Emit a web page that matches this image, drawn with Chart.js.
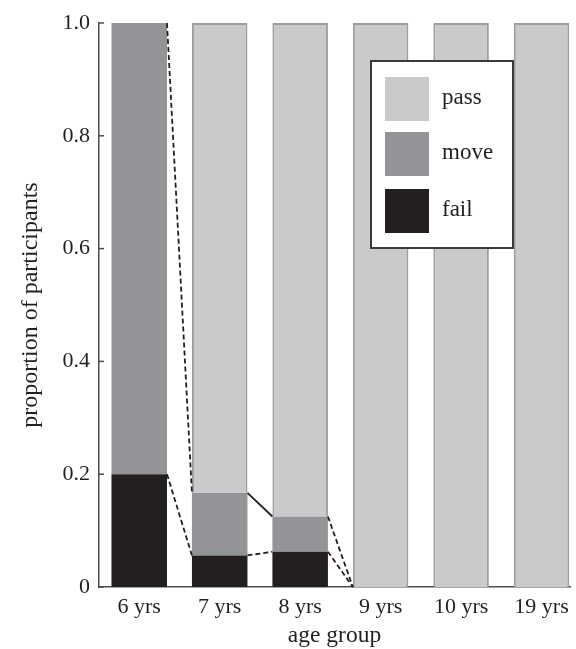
<!DOCTYPE html>
<html>
<head>
<meta charset="utf-8">
<title>proportion of participants by age group</title>
<script src="https://cdn.jsdelivr.net/npm/chart.js@4.4.1/dist/chart.umd.min.js"></script>
<style>
    html, body { margin: 0; padding: 0; background: #fff; }
    #wrap { width: 576px; height: 649px; position: relative; }
</style>
</head>
<body>
<div id="wrap"><canvas id="myChart"></canvas></div>
<script>
// data
const ageGroups = ['6 yrs', '7 yrs', '8 yrs', '9 yrs', '10 yrs', '19 yrs'];
const failValues = [0.2, 0.056, 0.0625, 0, 0, 0];
const moveValues = [0.8, 0.111, 0.0625, 0, 0, 0];
const passValues = [0, 0.833, 0.875, 1, 1, 1];
const yTickValues = [0, 0.2, 0.4, 0.6, 0.8, 1.0];
const yTickLabels = ['0', '0.2', '0.4', '0.6', '0.8', '1.0'];

// lines joining neighbouring bars: from bar, level, dashed or not
const linkFrom = [0, 0, 1, 1, 2, 2];
const linkLevel = ['move', 'fail', 'move', 'fail', 'move', 'fail'];
const linkDashed = [true, true, false, true, true, true];

const serif = '"Liberation Serif", "Times New Roman", serif';
const ink = '#231f20';

// connector lines drawn from the bar elements themselves
const linkPlugin = {
    id: 'links',
    afterDatasetsDraw(chart) {
        const ctx = chart.ctx;
        const metas = {
            fail: chart.getDatasetMeta(0),
            move: chart.getDatasetMeta(1)
        };
        ctx.save();
        ctx.strokeStyle = ink;
        ctx.lineWidth = 1.8;
        linkFrom.forEach((i, k) => {
            const meta = metas[linkLevel[k]];
            const a = meta.data[i];
            const b = meta.data[i + 1];
            ctx.setLineDash(linkDashed[k] ? [5, 3] : []);
            ctx.beginPath();
            ctx.moveTo(a.x + a.width / 2, a.y);
            ctx.lineTo(b.x - b.width / 2, b.y);
            ctx.stroke();
        });
        ctx.restore();
    }
};

// inward tick marks on the y axis
const tickPlugin = {
    id: 'inTicks',
    afterDraw(chart) {
        const ctx = chart.ctx;
        const y = chart.scales.y;
        const left = chart.chartArea.left;
        ctx.save();
        ctx.strokeStyle = '#4d4d4d';
        ctx.lineWidth = 1.5;
        yTickValues.forEach(v => {
            const py = y.getPixelForValue(v);
            ctx.beginPath();
            ctx.moveTo(left, py);
            ctx.lineTo(left + 5, py);
            ctx.stroke();
        });
        ctx.restore();
    }
};

// boxed legend inside the plot
const legendPlugin = {
    id: 'boxLegend',
    afterDraw(chart) {
        const ctx = chart.ctx;
        const box = { x: 371, y: 61, w: 142, h: 187 };
        ctx.save();
        ctx.fillStyle = '#fff';
        ctx.fillRect(box.x, box.y, box.w, box.h);
        ctx.strokeStyle = '#3a3a3a';
        ctx.lineWidth = 2;
        ctx.strokeRect(box.x, box.y, box.w, box.h);
        ctx.font = '23px ' + serif;
        ctx.textBaseline = 'middle';
        const order = [2, 1, 0];
        const rowTops = [77, 132, 189];
        order.forEach((d, r) => {
            const ds = chart.data.datasets[d];
            ctx.fillStyle = ds.backgroundColor;
            ctx.fillRect(box.x + 14, rowTops[r], 44, 44);
            ctx.fillStyle = ink;
            ctx.fillText(ds.label, box.x + 71, rowTops[r] + 21);
        });
        ctx.restore();
    }
};

const ctx = document.getElementById('myChart').getContext('2d');
const positions = ageGroups.map((_, i) => i + 1);

const chart = new Chart(ctx, {
    type: 'bar',
    data: {
        labels: positions,
        datasets: [
            {
                label: 'fail',
                data: failValues.map((v, i) => ({ x: positions[i], y: v })),
                backgroundColor: '#231f20',
                borderWidth: 0
            },
            {
                label: 'move',
                data: moveValues.map((v, i) => ({ x: positions[i], y: v })),
                backgroundColor: '#939497',
                borderWidth: 0
            },
            {
                label: 'pass',
                data: passValues.map((v, i) => ({ x: positions[i], y: v })),
                backgroundColor: '#c9cacc',
                borderColor: '#9c9d9f',
                borderWidth: 2
            }
        ]
    },
    options: {
        responsive: true,
        maintainAspectRatio: false,
        animation: false,
        layout: {
            padding: { top: 23, right: 4, bottom: 0, left: 0 }
        },
        datasets: {
            bar: {
                barPercentage: 0.69,
                categoryPercentage: 1
            }
        },
        plugins: {
            legend: { display: false },
            tooltip: { enabled: false }
        },
        scales: {
            x: {
                type: 'linear',
                stacked: true,
                offset: false,
                min: 0.5,
                max: 6.354,
                afterBuildTicks: scale => {
                    scale.ticks = positions.map(p => ({ value: p }));
                },
                afterFit: scale => { scale.height = 62; },
                grid: { display: false, drawTicks: false, offset: false },
                border: { display: true, color: '#4d4d4d', width: 1.5 },
                ticks: {
                    padding: 7,
                    color: ink,
                    font: { family: serif, size: 22 },
                    callback: v => ageGroups[v - 1] || ''
                },
                title: {
                    display: true,
                    text: 'age group',
                    color: ink,
                    font: { family: serif, size: 23.5 },
                    padding: { top: 0, bottom: -1 }
                }
            },
            y: {
                stacked: true,
                min: 0,
                max: 1,
                afterBuildTicks: scale => {
                    scale.ticks = yTickValues.map(v => ({ value: v }));
                },
                afterFit: scale => { scale.width = 99; },
                grid: { display: false, drawTicks: false },
                border: { display: true, color: '#4d4d4d', width: 1.5 },
                ticks: {
                    padding: 9,
                    color: ink,
                    font: { family: serif, size: 22 },
                    callback: (v, i) => yTickLabels[i]
                },
                title: {
                    display: true,
                    text: 'proportion of participants',
                    color: ink,
                    font: { family: serif, size: 24 },
                    padding: { top: 16, bottom: 0 }
                }
            }
        }
    },
    plugins: [linkPlugin, tickPlugin, legendPlugin]
});
</script>
</body>
</html>
